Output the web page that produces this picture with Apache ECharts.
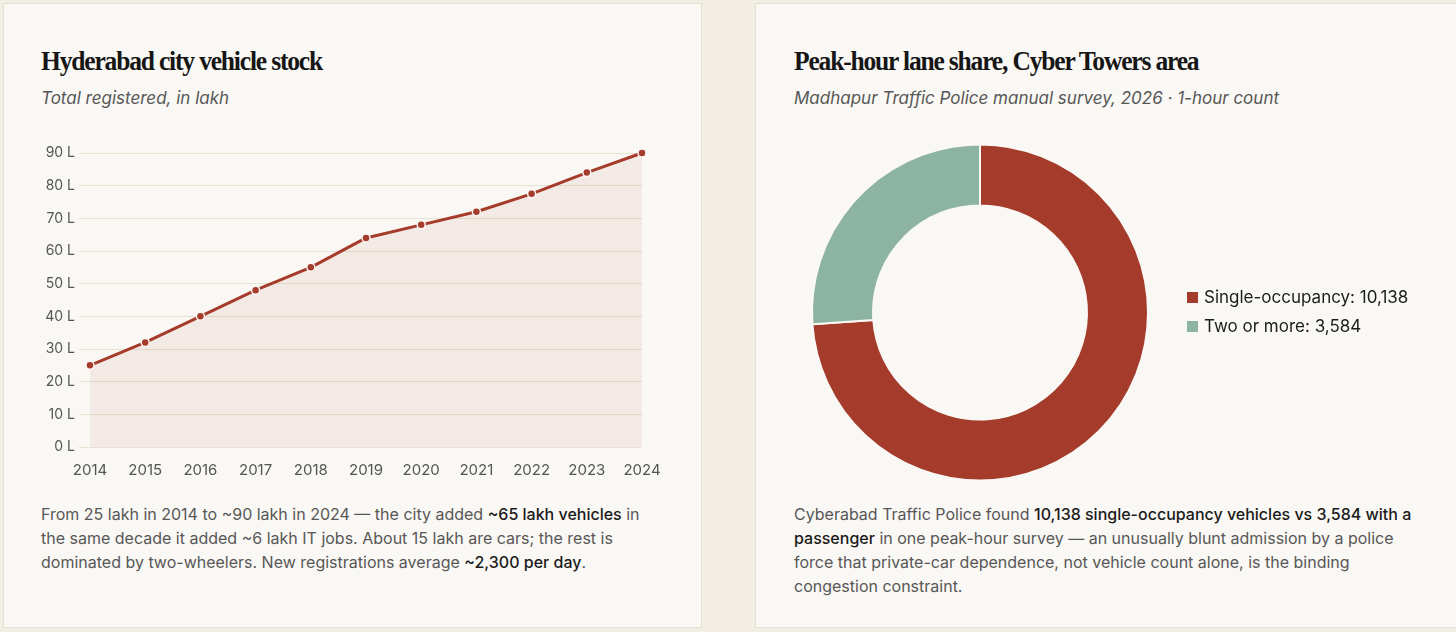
<!DOCTYPE html>
<html>
<head>
<meta charset="utf-8">
<script src="https://cdn.jsdelivr.net/npm/echarts@6/dist/echarts.min.js"></script>
<style>
  body { margin: 0; width: 1456px; height: 632px; overflow: hidden; background: #f2eee5; position: relative; font-family: Inter, "Noto Sans", sans-serif; }
  .card { position: absolute; top: 3px; height: 625px; background: #faf8f4; border: 1px solid #e6e0d1; box-sizing: border-box; }
  .title { position: absolute; top: 47px; font-family: "Liberation Serif", serif; font-weight: 700; font-size: 28px; line-height: 28px; letter-spacing: -1.3px; color: #161616; white-space: nowrap; transform: scaleX(0.912); transform-origin: 0 0; }
  .sub { position: absolute; top: 88px; font-style: italic; font-size: 17px; line-height: 20px; color: #575757; white-space: nowrap; }
  .note { position: absolute; top: 502px; font-size: 16px; line-height: 24px; color: #575757; white-space: nowrap; }
  .note b { font-weight: 500; color: #1a1a1a; }
  .chart { position: absolute; }
</style>
</head>
<body>
<div class="card" style="left:3px; width:699px;"></div>
<div class="card" style="left:755px; width:760px;"></div>

<div class="title" style="left:41px;">Hyderabad city vehicle stock</div>
<div class="sub" style="left:41px;">Total registered, in lakh</div>
<div id="line" class="chart" style="left:3px; top:130px; width:699px; height:360px;"></div>
<div class="note" style="left:41px;">From 25 lakh in 2014 to ~90 lakh in 2024 — the city added <b>~65 lakh vehicles</b> in<br>the same decade it added ~6 lakh IT jobs. About 15 lakh are cars; the rest is<br>dominated by two-wheelers. New registrations average <b>~2,300 per day</b>.</div>

<div class="title" style="left:794px;">Peak-hour lane share, Cyber Towers area</div>
<div class="sub" style="left:794px;">Madhapur Traffic Police manual survey, 2026 · 1-hour count</div>
<div id="donut" class="chart" style="left:755px; top:130px; width:700px; height:360px;"></div>
<div class="note" style="left:794px;">Cyberabad Traffic Police found <b>10,138 single-occupancy vehicles vs 3,584 with a<br>passenger</b> in one peak-hour survey — an unusually blunt admission by a police<br>force that private-car dependence, not vehicle count alone, is the binding<br>congestion constraint.</div>

<script>
// vehicle stock, lakh
const years = ['2014', '2015', '2016', '2017', '2018', '2019', '2020', '2021', '2022', '2023', '2024'];
const vehiclesLakh = [25, 32, 40, 48, 55, 64, 68, 72, 77.5, 84, 90];
const yTickStep = 10;
const yTickMax = 90;

// peak-hour survey counts
const laneNames = ['Single-occupancy', 'Two or more'];
const laneCounts = [10138, 3584];

const red = '#a53b2a';
const teal = '#8db3a3';
const gridColor = '#e6e1d0';

var lineChart = echarts.init(document.getElementById('line'));
lineChart.setOption({
  animation: false,
  grid: { left: 87, right: 60, top: 23, bottom: 43 },
  xAxis: {
    type: 'category',
    data: years,
    boundaryGap: false,
    axisLine: { show: false },
    axisTick: { show: false },
    axisLabel: { margin: 16, color: '#555', fontSize: 15, fontFamily: 'Inter' }
  },
  yAxis: {
    type: 'value',
    min: 0,
    max: yTickMax,
    interval: yTickStep,
    axisLine: { show: false },
    axisTick: { show: true, length: 11, lineStyle: { color: gridColor } },
    splitLine: { lineStyle: { color: gridColor } },
    axisLabel: { margin: 15, formatter: '{value} L', color: '#555', fontSize: 14, fontFamily: 'Inter' }
  },
  series: [{
    type: 'line',
    data: vehiclesLakh,
    symbol: 'circle',
    symbolSize: 8,
    lineStyle: { color: red, width: 3 },
    itemStyle: { color: red, borderColor: '#faf8f4', borderWidth: 1.5 },
    areaStyle: { color: 'rgba(165,59,42,0.1)' }
  }]
});

var donutChart = echarts.init(document.getElementById('donut'));
donutChart.setOption({
  animation: false,
  legend: {
    orient: 'vertical',
    left: 425,
    top: 154,
    icon: 'rect',
    itemWidth: 13,
    itemHeight: 13,
    itemGap: 12,
    textStyle: { color: '#1c1c1c', fontSize: 17, fontFamily: 'Inter' },
    formatter: function (name) {
      var i = laneNames.indexOf(name);
      return name + ': ' + laneCounts[i].toLocaleString('en-US');
    }
  },
  series: [{
    type: 'pie',
    center: [225, 182.5],
    radius: [107, 168],
    startAngle: 90,
    label: { show: false },
    labelLine: { show: false },
    emphasis: { scale: false },
    itemStyle: { borderColor: '#faf8f4', borderWidth: 2 },
    data: laneNames.map(function (n, i) {
      return { name: n, value: laneCounts[i], itemStyle: { color: i === 0 ? red : teal } };
    })
  }]
});
</script>
</body>
</html>
